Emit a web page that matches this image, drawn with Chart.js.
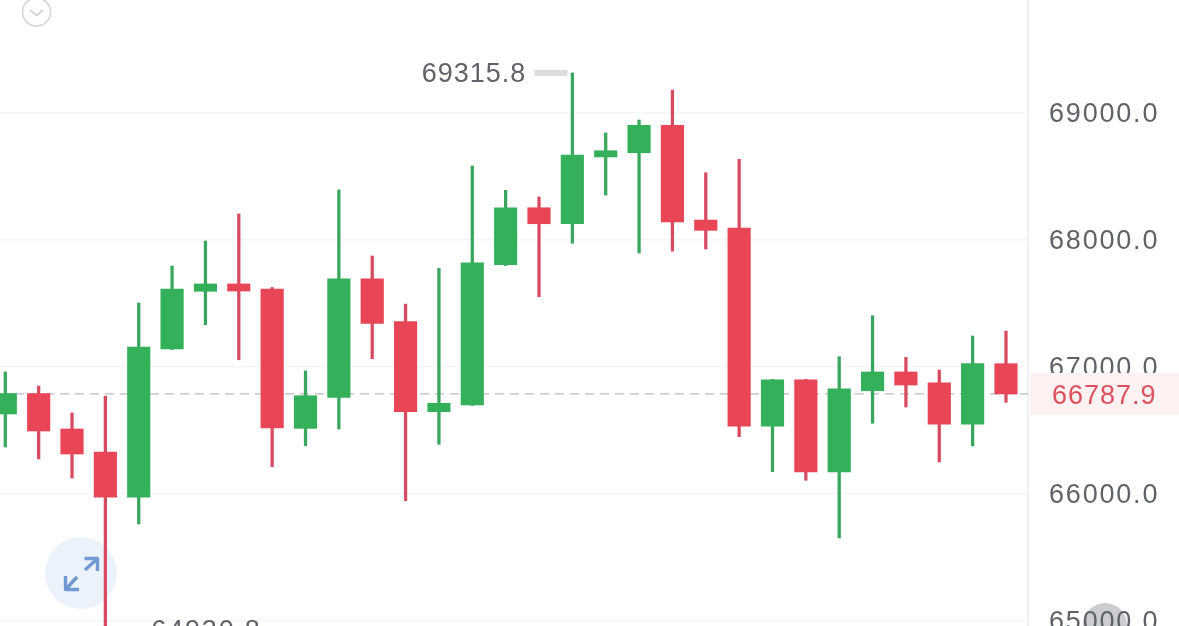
<!DOCTYPE html>
<html>
<head>
<meta charset="utf-8">
<style>html,body{margin:0;padding:0;background:#fff;overflow:hidden}canvas{display:block}</style>
<script src="https://cdn.jsdelivr.net/npm/chart.js@4/dist/chart.umd.js"></script>
</head>
<body>
<canvas id="c" width="1179" height="626"></canvas>
<script>
const opens  = [66630,66791,66512,66331,65976,67142,67596,67654,67614,66517,66761,67695,67357,66648,66701,67806,68254,68128,68654,68687,68903,68157,68094,66535,66898,66173,66813,66961,66876,66549,67026];
const closes = [66791,66496,66315,65976,67157,67614,67654,67598,66520,66774,67695,67344,66648,66714,67821,68254,68128,68669,68703,68903,68142,68076,66535,66898,66173,66829,66961,66858,66549,67026,66787.9];
const highs  = [66961,66850,66638,66772,67504,67795,67992,68205,67626,66969,68394,67874,67496,67777,68583,68391,68339,69315.8,68843,68945,69181,68530,68635,66903,66903,67081,67404,67076,66976,67244,67283];
const lows   = [66370,66276,66126,64930.8,65764,67138,67333,67057,66215,66380,66512,67065,65947,66391,66697,67799,67554,67974,68354,67898,67913,67929,66451,66176,66108,65654,66557,66685,66252,66378,66722];
const tickValues = [65000,66000,67000,68000,69000];
const lastPrice = 66787.9;
const maxLabel = 69315.8;
const minLabel = 64930.8;
const maxIndex = 17;
const minIndex = 3;

const FONT = '27px "Liberation Sans"';
const GREEN = '#35b05a', RED = '#e84557';
const GREEN_W = '#38a65c', RED_W = '#d74a60';
const isUp = i => closes[i] >= opens[i];

const decor = {
  id: 'decor',
  beforeDraw(chart) {
    const ctx = chart.ctx;
    ctx.letterSpacing = '1.8px';
    ctx.fillStyle = '#fff';
    ctx.fillRect(0, 0, chart.width, chart.height);
    ctx.save();
    ctx.strokeStyle = '#d6d8db'; ctx.lineWidth = 1.8;
    ctx.beginPath(); ctx.arc(36.5, 12, 14, 0, Math.PI * 2); ctx.stroke();
    ctx.strokeStyle = '#c6c8cc'; ctx.lineWidth = 1.6;
    ctx.beginPath(); ctx.moveTo(30, 10); ctx.lineTo(36.5, 15.5); ctx.lineTo(43, 10); ctx.stroke();
    ctx.fillStyle = '#ecf2fb';
    ctx.beginPath(); ctx.arc(81, 573, 36, 0, Math.PI * 2); ctx.fill();
    ctx.fillStyle = '#cbcdd1';
    ctx.beginPath(); ctx.arc(1105, 625, 22, 0, Math.PI * 2); ctx.fill();
    ctx.restore();
  },
  beforeDatasetsDraw(chart) {
    const ctx = chart.ctx, y = chart.scales.y.getPixelForValue(lastPrice);
    ctx.save();
    ctx.strokeStyle = '#7099d2'; ctx.lineWidth = 3.4; ctx.lineJoin = 'round';
    ctx.beginPath(); ctx.moveTo(85, 570); ctx.lineTo(97, 559);
    ctx.moveTo(84.5, 558.5); ctx.lineTo(97.5, 558.5); ctx.lineTo(97.5, 571); ctx.stroke();
    ctx.beginPath(); ctx.moveTo(77, 577); ctx.lineTo(66, 589);
    ctx.moveTo(65.5, 576); ctx.lineTo(65.5, 589.5); ctx.lineTo(79, 589.5); ctx.stroke();
    ctx.strokeStyle = '#bdb9bf'; ctx.lineWidth = 1.2; ctx.setLineDash([9, 6]);
    ctx.beginPath(); ctx.moveTo(0, y); ctx.lineTo(chart.chartArea.right, y); ctx.stroke();
    ctx.restore();
  },
  afterDatasetsDraw(chart) {
    const ctx = chart.ctx, sy = chart.scales.y, sx = chart.scales.x;
    const y = sy.getPixelForValue(lastPrice);
    ctx.save();
    ctx.fillStyle = '#fdf2f1';
    ctx.fillRect(1030, y - 21, 149, 42);
    ctx.font = FONT; ctx.textBaseline = 'middle'; ctx.textAlign = 'left';
    ctx.letterSpacing = '1px';
    ctx.fillStyle = '#dc5062';
    ctx.fillText(lastPrice.toFixed(1), 1052, y + 2.5);
    ctx.fillStyle = '#5f6368';
    ctx.textAlign = 'right';
    const hx = sx.getPixelForValue(maxIndex), hy = sy.getPixelForValue(maxLabel);
    ctx.fillText(maxLabel.toFixed(1), hx - 46, hy + 2);
    ctx.fillStyle = '#dcdcdc';
    ctx.fillRect(hx - 38, hy - 3, 33, 6);
    ctx.fillStyle = '#5f6368';
    ctx.textAlign = 'left';
    ctx.letterSpacing = '1.8px';
    const lx = sx.getPixelForValue(minIndex), ly = sy.getPixelForValue(minLabel);
    ctx.fillText(minLabel.toFixed(1), lx + 46, ly + 2);
    ctx.restore();
  }
};

const idx = opens.map((_, i) => i);
new Chart(document.getElementById('c'), {
  type: 'bar',
  data: {
    datasets: [
      {
        label: 'body',
        order: 1,
        grouped: false,
        barThickness: 22.5,
        borderWidth: 0,
        data: idx.map(i => ({ x: i, y: [opens[i], closes[i]] })),
        backgroundColor: idx.map(i => isUp(i) ? GREEN : RED)
      },
      {
        label: 'wick',
        order: 2,
        grouped: false,
        barThickness: 2.6,
        borderWidth: 0,
        data: idx.map(i => ({ x: i, y: [lows[i], highs[i]] })),
        backgroundColor: idx.map(i => isUp(i) ? GREEN_W : RED_W)
      }
    ]
  },
  options: {
    responsive: false,
    animation: false,
    layout: { padding: 0 },
    plugins: { legend: { display: false }, tooltip: { enabled: false }, title: { display: false } },
    scales: {
      x: {
        type: 'linear',
        offset: false,
        min: -0.159,
        max: 30.66,
        display: false,
        grid: { display: false }
      },
      y: {
        position: 'right',
        min: 64960.6,
        max: 69889.8,
        afterBuildTicks(s) { s.ticks = tickValues.map(v => ({ value: v })); },
        afterFit(s) { s.width = 151; s.paddingTop = 0; s.paddingBottom = 0; },
        grid: { color: '#f3f5f8', lineWidth: 1.6, drawTicks: false },
        border: { color: '#f0f2f6', width: 2 },
        ticks: {
          padding: 21,
          labelOffset: 2,
          color: '#5f6368',
          font: { family: '"Liberation Sans"', size: 27 },
          callback: v => v.toFixed(1)
        }
      }
    }
  },
  plugins: [decor]
});
</script>
</body>
</html>
